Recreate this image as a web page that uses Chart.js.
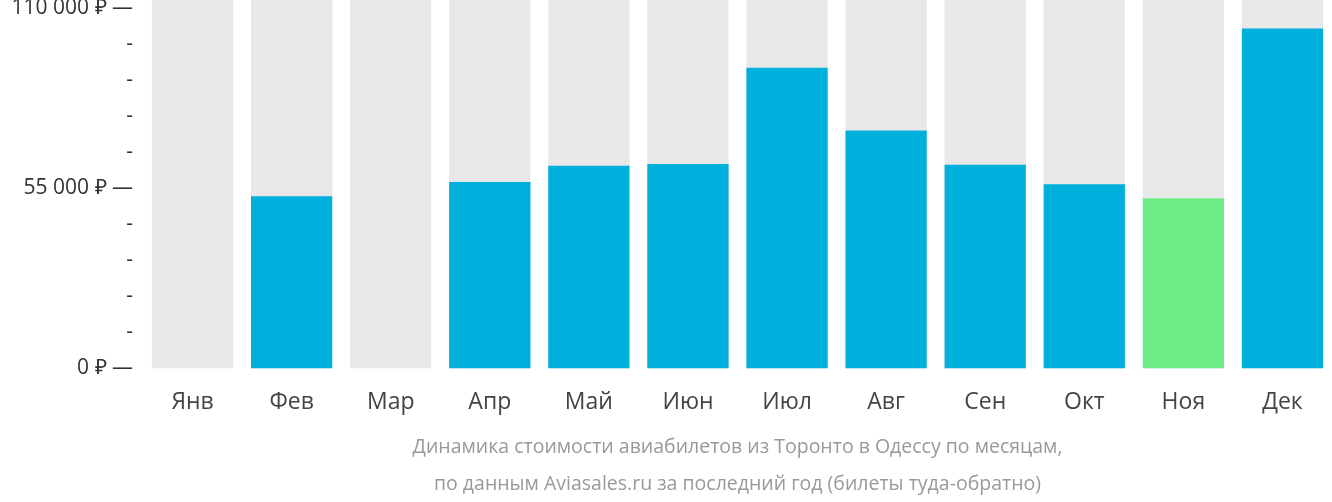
<!DOCTYPE html><html><head><meta charset="utf-8">
<script src="https://cdn.jsdelivr.net/npm/chart.js@4"></script>
<style>html,body{margin:0;padding:0;background:#fff}#w{width:1332px;height:502px}</style></head>
<body><div id="w"><canvas id="c"></canvas></div><script>
const months=["Янв","Фев","Мар","Апр","Май","Июн","Июл","Авг","Сен","Окт","Ноя","Дек"];
const prices=[null,52500,null,56900,61800,62400,91800,72600,62100,56200,51900,103800];
const barColors=["#00b0dc","#00b0dc","#00b0dc","#00b0dc","#00b0dc","#00b0dc","#00b0dc","#00b0dc","#00b0dc","#00b0dc","#6ced88","#00b0dc"];
const tickValues=[0,11000,22000,33000,44000,55000,66000,77000,88000,99000,110000];
const majorLabels={0:"0 ₽ —",55000:"55 000 ₽ —",110000:"110 000 ₽ —"};
const yMin=-3090,yMax=112470;
const titleLines=["Динамика стоимости авиабилетов из Торонто в Одессу по месяцам,","по данным Aviasales.ru за последний год (билеты туда-обратно)"];
new Chart(document.getElementById('c'),{type:'bar',
data:{labels:months,datasets:[
{data:prices,backgroundColor:barColors,grouped:false,order:1,barPercentage:0.82,categoryPercentage:1},
{data:months.map(()=>yMax),backgroundColor:"#e8e8e8",grouped:false,order:2,barPercentage:0.82,categoryPercentage:1}]},
options:{responsive:true,maintainAspectRatio:false,animation:false,
layout:{padding:{top:0,right:-8,bottom:0,left:0}},
plugins:{legend:{display:false},tooltip:{enabled:false}},
scales:{
x:{grid:{display:false},border:{display:false},ticks:{color:'#444',font:{family:'Open Sans',size:23},padding:2},
 title:{display:true,text:titleLines,color:'#999',font:{family:'Open Sans',size:19.5,lineHeight:1.85},padding:{top:12,bottom:0}}},
y:{min:yMin,max:yMax,afterBuildTicks:a=>{a.ticks=tickValues.map(v=>({value:v}));},
afterFit:a=>{a.width=143;a.paddingTop=0;a.paddingBottom=0;},
grid:{display:false},border:{display:false},
ticks:{color:'#333',font:{family:'Open Sans',size:21},padding:2,callback:v=>majorLabels[v]!==undefined?majorLabels[v]:"-"}}}}});
</script></body></html>
